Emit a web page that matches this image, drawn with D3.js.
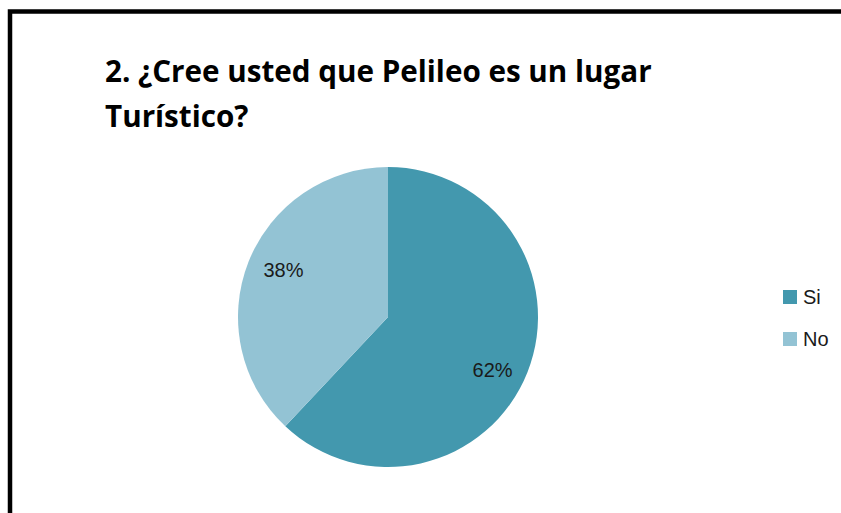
<!DOCTYPE html>
<html>
<head>
<meta charset="utf-8">
<script src="https://cdn.jsdelivr.net/npm/d3@7"></script>
<style>
    html, body { margin: 0; padding: 0; background: #fff; }
    svg { display: block; }
</style>
</head>
<body>
<div id="myfigure"></div>
<script>
// chart values
var categories = ["Si", "No"];
var values = [62, 38];
var colors = ["#4398ae", "#93c3d4"];
var titleLines = ["2. ¿Cree usted que Pelileo es un lugar", "Turístico?"];

var width = 841;
var height = 513;
var center = { x: 388, y: 317 };
var radius = 150;

var svg = d3.select("#myfigure").
    append("svg").
    attr("width", width).
    attr("height", height);

// frame, runs off the right and bottom edge like the screenshot
svg.append("rect").
    attr("x", 10).
    attr("y", 11.5).
    attr("width", width + 20).
    attr("height", height + 20).
    attr("fill", "none").
    attr("stroke", "#000").
    attr("stroke-width", 4.5);

// title, fitted to the width of the original first line
var title = svg.append("g").
    attr("font-family", "'Open Sans', 'Liberation Sans', sans-serif").
    attr("font-weight", "bold").
    attr("fill", "#000");

var line1 = title.append("text").
    attr("x", 105).
    attr("y", 82).
    attr("font-size", 27).
    text(titleLines[0]);

var fs = 27 * 547 / line1.node().getComputedTextLength();
line1.attr("font-size", fs);

title.append("text").
    attr("x", 105).
    attr("y", 127).
    attr("font-size", fs).
    text(titleLines[1]);

// pie
var pie = d3.pie().sort(null).value(function (d) { return d; });
var arcs = pie(values);

var arc = d3.arc().innerRadius(0).outerRadius(radius);
var labelArc = d3.arc().innerRadius(116).outerRadius(116);

var g = svg.append("g").
    attr("transform", "translate(" + center.x + "," + center.y + ")");

g.selectAll("path").
    data(arcs).
    enter().
    append("path").
    attr("d", arc).
    attr("fill", function (d, i) { return colors[i]; });

var total = d3.sum(values);

// labels sit a little clockwise of the slice middle, as in the original
var labelShift = 0.07;

g.selectAll("text").
    data(arcs).
    enter().
    append("text").
    attr("transform", function (d) {
        var c = labelArc.centroid({
            startAngle: d.startAngle + labelShift,
            endAngle: d.endAngle + labelShift
        });
        return "translate(" + c[0] + "," + (c[1] + 3) + ")";
    }).
    attr("text-anchor", "middle").
    attr("dy", "0.35em").
    attr("font-family", "'Liberation Sans', Arial, sans-serif").
    attr("font-size", 20).
    attr("fill", "#1a1a1a").
    text(function (d) { return Math.round(d.value / total * 100) + "%"; });

// legend
var legend = svg.append("g").
    attr("transform", "translate(783, 290)");

var item = legend.selectAll("g").
    data(categories).
    enter().
    append("g").
    attr("transform", function (d, i) { return "translate(0," + (i * 42) + ")"; });

item.append("rect").
    attr("width", 14).
    attr("height", 14).
    attr("fill", function (d, i) { return colors[i]; });

item.append("text").
    attr("x", 20).
    attr("y", 14).
    attr("font-family", "'Liberation Sans', Arial, sans-serif").
    attr("font-size", 20).
    attr("fill", "#1a1a1a").
    text(function (d) { return d; });
</script>
</body>
</html>
